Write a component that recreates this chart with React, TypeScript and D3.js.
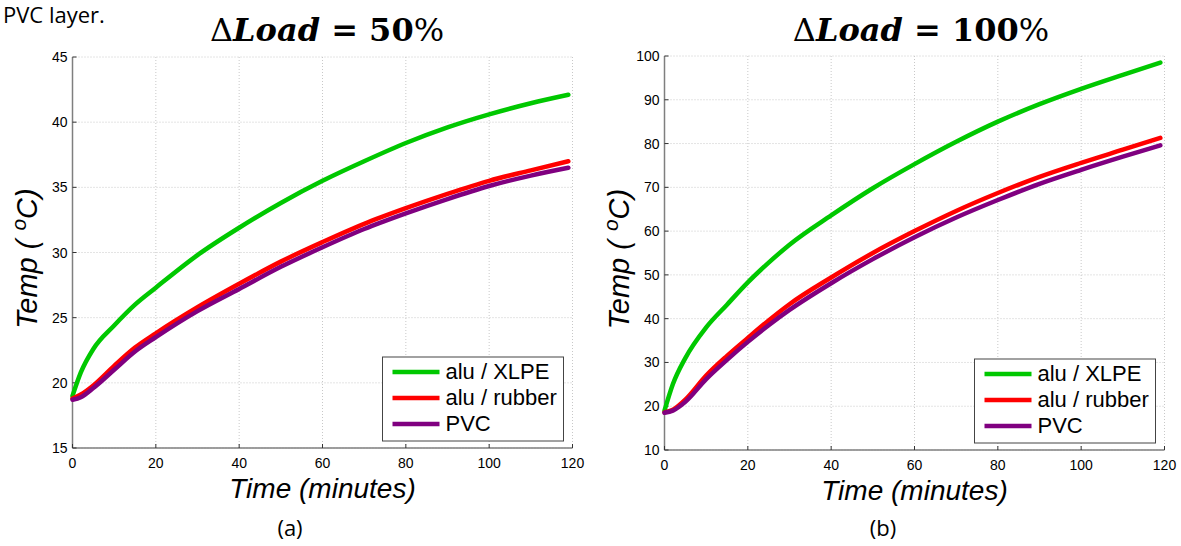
import React from "react";
import * as d3 from "d3";

const seriesNames = ["alu / XLPE", "alu / rubber", "PVC"];
const seriesColors = ["#00c800", "#ff0000", "#800080"];

// Panel (a): ΔLoad = 50%
const timeA = [0, 2, 5, 10, 15, 20, 30, 40, 50, 60, 70, 80, 90, 100, 110, 119];
const xlpeA = [19.0, 20.8, 22.6, 24.4, 26.0, 27.3, 29.8, 31.9, 33.8, 35.5, 37.0, 38.4, 39.6, 40.6, 41.45, 42.1];
const rubberA = [18.8, 19.1, 19.8, 21.3, 22.7, 23.8, 25.8, 27.6, 29.3, 30.8, 32.2, 33.4, 34.5, 35.5, 36.3, 37.0];
const pvcA = [18.7, 18.9, 19.6, 21.0, 22.4, 23.5, 25.5, 27.2, 28.9, 30.4, 31.8, 33.0, 34.1, 35.1, 35.9, 36.5];

// Panel (b): ΔLoad = 100%
const timeB = [0, 2, 5, 10, 15, 20, 25, 30, 40, 50, 60, 70, 80, 90, 100, 110, 119];
const xlpeB = [19.0, 25.0, 31.0, 38.0, 43.2, 48.3, 52.8, 56.9, 63.6, 69.8, 75.3, 80.4, 85.0, 89.0, 92.5, 95.7, 98.5];
const rubberB = [18.6, 19.2, 21.5, 27.0, 31.5, 35.6, 39.6, 43.3, 49.4, 55.0, 60.0, 64.6, 68.7, 72.4, 75.6, 78.6, 81.3];
const pvcB = [18.5, 19.0, 21.0, 26.2, 30.6, 34.7, 38.5, 42.0, 48.1, 53.6, 58.6, 63.1, 67.1, 70.8, 74.0, 77.0, 79.6];

const xTicks = [0, 20, 40, 60, 80, 100, 120];
const yTicksA = [15, 20, 25, 30, 35, 40, 45];
const yTicksB = [10, 20, 30, 40, 50, 60, 70, 80, 90, 100];

const titleA = "50";
const titleB = "100";
const xLabel = "Time (minutes)";
const caption = "PVC layer.";

type PanelProps = {
  left: number; right: number; top: number; bottom: number;
  yDomain: [number, number]; yTicks: number[];
  time: number[]; series: number[][];
  title: string; titleX: number; panelLabel: string; labelX: number;
};

function Panel(p: PanelProps) {
  const x = d3.scaleLinear().domain([0, 120]).range([p.left, p.right]);
  const y = d3.scaleLinear().domain(p.yDomain).range([p.bottom, p.top]);
  const line = d3.line<[number, number]>()
    .x((d) => x(d[0]))
    .y((d) => y(d[1]))
    .curve(d3.curveMonotoneX);
  const axisColor = "#7f7f7f";
  const gridColor = "#c8c8c8";
  const midY = (p.top + p.bottom) / 2;
  const legX = p.right - 190;
  const legY = p.bottom - 91;
  return (
    <g>
      {/* grid */}
      {xTicks.map((t) => (
        <line key={"gx" + t} x1={x(t)} x2={x(t)} y1={p.top} y2={p.bottom}
          stroke={gridColor} strokeWidth={1} strokeDasharray="1,2" />
      ))}
      {p.yTicks.map((t) => (
        <line key={"gy" + t} x1={p.left} x2={p.right} y1={y(t)} y2={y(t)}
          stroke={gridColor} strokeWidth={1} strokeDasharray="1,2" />
      ))}
      {/* axes */}
      <line x1={p.left} x2={p.left} y1={p.top} y2={p.bottom} stroke={axisColor} strokeWidth={1.5} />
      <line x1={p.left} x2={p.right} y1={p.bottom} y2={p.bottom} stroke={axisColor} strokeWidth={1.5} />
      {xTicks.map((t) => (
        <g key={"tx" + t}>
          <line x1={x(t)} x2={x(t)} y1={p.bottom} y2={p.bottom - 4} stroke="#333" strokeWidth={1} />
          <text x={x(t)} y={p.bottom + 20} textAnchor="middle" fontFamily="Liberation Sans, Arial, sans-serif"
            fontSize={14} fill="#000">{t}</text>
        </g>
      ))}
      {p.yTicks.map((t) => (
        <g key={"ty" + t}>
          <line x1={p.left} x2={p.left + 4} y1={y(t)} y2={y(t)} stroke="#333" strokeWidth={1} />
          <text x={p.left - 5} y={y(t) + 5} textAnchor="end" fontFamily="Liberation Sans, Arial, sans-serif"
            fontSize={14} fill="#000">{t}</text>
        </g>
      ))}
      {/* series */}
      {p.series.map((vals, i) => (
        <path key={"s" + i}
          d={line(p.time.map((t, j) => [t, vals[j]] as [number, number])) || ""}
          fill="none" stroke={seriesColors[i]} strokeWidth={4.5} strokeLinejoin="round" strokeLinecap="round" />
      ))}
      {/* legend */}
      <rect x={legX} y={legY} width={181} height={84} fill="#fff" stroke="#444" strokeWidth={1} />
      {seriesNames.map((n, i) => (
        <g key={"l" + i}>
          <line x1={legX + 10} x2={legX + 57} y1={legY + 15 + i * 26} y2={legY + 15 + i * 26}
            stroke={seriesColors[i]} strokeWidth={4.5} />
          <text x={legX + 63} y={legY + 22 + i * 26} fontFamily="Liberation Sans, Arial, sans-serif"
            fontSize={22} fill="#000">{n}</text>
        </g>
      ))}
      {/* axis labels */}
      <text transform={`translate(${p.left - 36},${midY + 6}) rotate(-90)`} textAnchor="middle"
        fontFamily="Liberation Sans, Arial, sans-serif" fontStyle="italic" fontSize={29} fill="#000">
        Temp (<tspan fontSize={21} dx={9} dy={-11}>o</tspan><tspan dy={11}>C)</tspan>
      </text>
      <text x={(p.left + p.right) / 2} y={p.bottom + 50} textAnchor="middle"
        fontFamily="Liberation Sans, Arial, sans-serif" fontStyle="italic" fontSize={28} fill="#000">{xLabel}</text>
      {/* title */}
      <text x={p.titleX} y={41} textAnchor="middle" fontFamily="DejaVu Serif, Liberation Serif, serif"
        fontSize={32} fill="#000">
        <tspan>Δ</tspan>
        <tspan fontWeight="bold" fontStyle="italic">Load</tspan>
        <tspan fontWeight="bold"> = {p.title}</tspan>
        <tspan>%</tspan>
      </text>
      <text x={p.labelX} y={536} textAnchor="middle" fontFamily="Open Sans, Liberation Sans, sans-serif"
        fontSize={22} fill="#000">{p.panelLabel}</text>
    </g>
  );
}

export default function App() {
  return (
    <svg width={1181} height={546} style={{ position: "absolute", left: 0, top: 0, background: "#fff" }}>
      <rect x={0} y={0} width={1181} height={546} fill="#fff" />
      <text x={3} y={23} fontFamily="Open Sans, Liberation Sans, sans-serif" fontSize={22} fill="#000">{caption}</text>
      <Panel left={72.5} right={572.5} top={57} bottom={448} yDomain={[15, 45]} yTicks={yTicksA}
        time={timeA} series={[xlpeA, rubberA, pvcA]} title={titleA} titleX={327} panelLabel="(a)" labelX={290} />
      <Panel left={664.5} right={1164.5} top={56} bottom={450} yDomain={[10, 100]} yTicks={yTicksB}
        time={timeB} series={[xlpeB, rubberB, pvcB]} title={titleB} titleX={921} panelLabel="(b)" labelX={883} />
    </svg>
  );
}
